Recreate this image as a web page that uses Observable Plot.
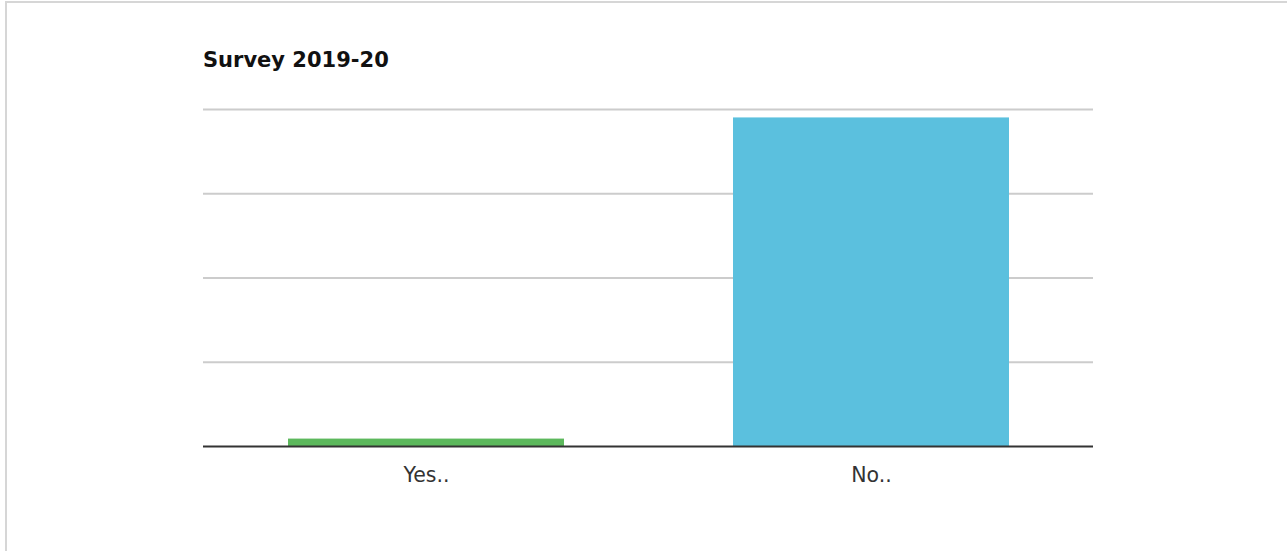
<!DOCTYPE html>
<html>
<head>
<meta charset="utf-8">
<script src="https://cdn.jsdelivr.net/npm/d3@7"></script>
<script src="https://cdn.jsdelivr.net/npm/@observablehq/plot@0.6"></script>
<style>
  html, body { margin: 0; padding: 0; background: #fff; overflow: hidden; }
  #frame { position: absolute; left: 5px; top: 1px; width: 1400px; height: 700px; border: 2px solid #d6d6d6; box-sizing: border-box; }
  #title { position: absolute; left: 203px; top: 50px; font: bold 21px "DejaVu Sans", sans-serif; line-height: 1; color: #111; margin: 0; }
  #chart { position: absolute; left: 0; top: 0; }
</style>
</head>
<body>
<div id="frame"></div>
<div id="chart"></div>
<div id="title">Survey 2019-20</div>
<script>
const categories = ["Yes..", "No.."];
const values = [2.2, 97.5];
const colors = ["#5cb85c", "#5bc0de"];
const gridTicks = [25, 50, 75, 100];

const data = categories.map((c, i) => ({cat: c, value: values[i]}));

const chart = Plot.plot({
  width: 1287,
  height: 551,
  marginLeft: 203,
  marginRight: 194,
  marginTop: 109,
  marginBottom: 105,
  style: {fontFamily: "DejaVu Sans, sans-serif", fontSize: "20.5px", color: "#333", background: "transparent"},
  x: {domain: categories, paddingInner: 0.38, paddingOuter: 0.19, label: null},
  y: {domain: [0, 100], axis: null},
  color: {domain: categories, range: colors},
  marks: [
    Plot.ruleY(gridTicks, {stroke: "#cccccc", strokeWidth: 2}),
    Plot.barY(data, {x: "cat", y: "value", fill: "cat"}),
    Plot.ruleY([0], {stroke: "#333333", strokeWidth: 2}),
    Plot.axisX({tickSize: 0, tickPadding: 21, label: null, fill: "#333"})
  ]
});
document.getElementById("chart").appendChild(chart);
</script>
</body>
</html>
